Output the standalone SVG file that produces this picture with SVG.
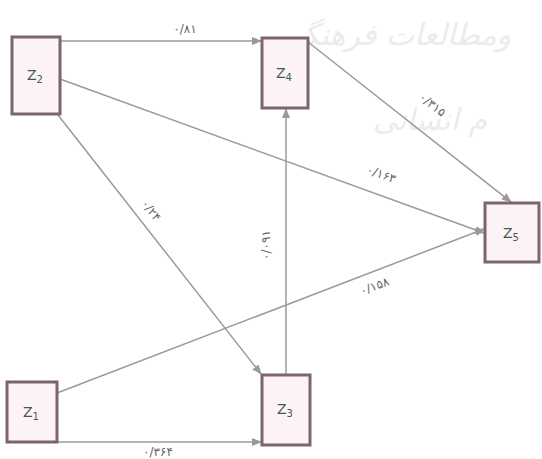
<svg xmlns="http://www.w3.org/2000/svg" width="542" height="459" viewBox="0 0 542 459">
<style>
.box{fill:#fdf2f5;stroke:#7d6570;stroke-width:3}
.nt{font-family:"DejaVu Sans",sans-serif;font-size:14px;fill:#3f5a50;text-anchor:middle}
.sub{font-size:10px}
.edge{stroke:#9a9a9a;stroke-width:1.5;fill:none;marker-end:url(#ah)}
.lbl{font-family:"DejaVu Sans",sans-serif;font-size:12px;fill:#666666;text-anchor:middle}
.wm{font-family:"DejaVu Sans",sans-serif;fill:#ececec;font-style:italic}
</style>
<defs>
<marker id="ah" markerWidth="10" markerHeight="8" refX="9" refY="4" orient="auto" markerUnits="userSpaceOnUse">
<path d="M0,0 L10,4 L0,8 Z" fill="#9a9a9a"/>
</marker>
</defs>
<rect width="542" height="459" fill="#ffffff"/>
<g id="watermark">
<text class="wm" x="395" y="45" font-size="30" text-anchor="middle">ومطالعات فرهنگی</text>
<text class="wm" x="430" y="130" font-size="30" text-anchor="middle">م انسانی</text>
</g>
<g id="connectors">
<line class="edge" x1="60" y1="41" x2="261" y2="41"/>
<line class="edge" x1="60" y1="79" x2="484" y2="233"/>
<line class="edge" x1="308" y1="42" x2="511" y2="202"/>
<line class="edge" x1="58" y1="115" x2="261" y2="374"/>
<line class="edge" x1="286" y1="375" x2="286" y2="109"/>
<line class="edge" x1="57" y1="393" x2="484" y2="229"/>
<line class="edge" x1="57" y1="442" x2="261" y2="442"/>
<text class="lbl" x="185" y="33">۰/۸۱</text>
<text class="lbl" x="430" y="108" transform="rotate(38 430 108)">۰/۳۱۵</text>
<text class="lbl" x="380" y="178" transform="rotate(20 380 178)">۰/۱۶۳</text>
<text class="lbl" x="148" y="213" transform="rotate(52 148 213)">۰/۲۴</text>
<text class="lbl" x="270" y="245" transform="rotate(-90 270 245)">۰/۰۹۱</text>
<text class="lbl" x="376" y="290" transform="rotate(-21 376 290)">۰/۱۵۸</text>
<text class="lbl" x="158" y="456">۰/۳۶۴</text>
</g>
<g id="Z2"><rect class="box" x="12" y="37" width="48" height="77"/><text class="nt" x="35" y="80">Z<tspan class="sub" dy="3">2</tspan></text></g>
<g id="Z4"><rect class="box" x="262" y="38" width="46" height="70"/><text class="nt" x="284" y="78">Z<tspan class="sub" dy="3">4</tspan></text></g>
<g id="Z5"><rect class="box" x="485" y="203" width="54" height="59"/><text class="nt" x="511" y="238">Z<tspan class="sub" dy="3">5</tspan></text></g>
<g id="Z1"><rect class="box" x="7" y="382" width="50" height="60"/><text class="nt" x="31" y="417">Z<tspan class="sub" dy="3">1</tspan></text></g>
<g id="Z3"><rect class="box" x="262" y="375" width="48" height="70"/><text class="nt" x="285" y="414">Z<tspan class="sub" dy="3">3</tspan></text></g>
</svg>
